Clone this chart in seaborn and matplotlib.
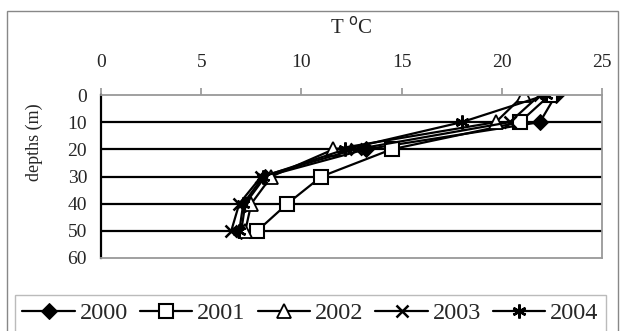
import matplotlib
matplotlib.use("Agg")
import matplotlib.pyplot as plt
import matplotlib.patches as mpatches
import seaborn as sns
import pandas as pd

# --------------------
# Data
# --------------------
depths = [0, 10, 20, 30, 40, 50]
years = ["2000", "2001", "2002", "2003", "2004"]
t_2000 = [22.7, 21.9, 13.2, 8.2, 7.2, 7.0]
t_2001 = [22.4, 20.9, 14.5, 11.0, 9.3, 7.8]
t_2002 = [21.1, 19.7, 11.6, 8.5, 7.5, 7.2]
t_2003 = [21.9, 20.4, 12.7, 8.0, 6.9, 6.5]
t_2004 = [22.2, 18.0, 12.2, 8.1, 7.1, 6.9]
x_ticks = [0, 5, 10, 15, 20, 25]
y_ticks = [0, 10, 20, 30, 40, 50, 60]

series = dict(zip(years, [t_2000, t_2001, t_2002, t_2003, t_2004]))
df = pd.concat(
    [pd.DataFrame({"year": y, "depth": depths, "temp": v}) for y, v in series.items()],
    ignore_index=True,
)

# marker styles per year (Excel-like)
styles = {
    "2000": dict(marker="D", markersize=8, markerfacecolor="black"),
    "2001": dict(marker="s", markersize=10, markerfacecolor="white", markeredgewidth=1.5),
    "2002": dict(marker="^", markersize=10, markerfacecolor="white", markeredgewidth=1.3),
    "2003": dict(marker="x", markersize=9, markeredgewidth=1.8),
    "2004": dict(marker=(6, 2, 0), markersize=10, markeredgewidth=1.8),
}


def main():
    sns.set_theme(style="white")
    plt.rcParams["font.family"] = ["Liberation Serif", "DejaVu Serif"]

    fig = plt.figure(figsize=(6.21, 3.31), dpi=100)
    ax = fig.add_axes([101 / 621, 1 - 258 / 331, 501 / 621, 163 / 331])

    for y in years:
        sub = df[df["year"] == y]
        sns.lineplot(data=sub, x="temp", y="depth", sort=False, estimator=None,
                     color="black", linewidth=1.6, markeredgecolor="black",
                     label=y, ax=ax, **styles[y])

    ax.set_xlim(0, 25)
    ax.set_ylim(60, 0)
    ax.set_xticks(x_ticks)
    ax.set_yticks(y_ticks)
    ax.xaxis.tick_top()
    ax.xaxis.set_label_position("top")
    ax.set_xlabel("T $^{\\mathrm{o}}$C", fontsize=15, labelpad=15)
    ax.set_ylabel("depths (m)", fontsize=13)
    # axis title sits above the plot-area centre, as in the source
    ax.yaxis.set_label_coords(-58 / 501, (258 - 142) / 163)
    ax.tick_params(axis="x", labelsize=14, length=5, color="#999999", pad=12, direction="out")
    ax.tick_params(axis="y", labelsize=14, length=6, color="black", width=1.5, direction="inout", pad=7)

    for v in y_ticks[1:-1]:
        ax.axhline(v, color="black", linewidth=1.6, zorder=0)

    for side in ["top", "right", "bottom"]:
        ax.spines[side].set_color("#999999")
        ax.spines[side].set_linewidth(1.3)
    ax.spines["left"].set_color("black")
    ax.spines["left"].set_linewidth(1.6)

    handles, labels = ax.get_legend_handles_labels()
    ax.get_legend().remove()
    fig.legend(handles, labels, loc="upper center", ncol=5,
               bbox_to_anchor=(0.5, 1 - 295 / 331), borderaxespad=0,
               frameon=True, fancybox=False, edgecolor="#aaaaaa",
               fontsize=17.5, handlelength=2.15, handletextpad=0.2,
               borderpad=0.3, columnspacing=0.5)

    # outer chart frame
    fig.patches.append(mpatches.Rectangle((7 / 621, -0.05), 611 / 621, 1.05 - 11 / 331,
                                          transform=fig.transFigure, fill=False,
                                          edgecolor="#888888", linewidth=1.0))

    fig.savefig("out.png", dpi=100)
    plt.close(fig)


if __name__ == "__main__":
    main()
